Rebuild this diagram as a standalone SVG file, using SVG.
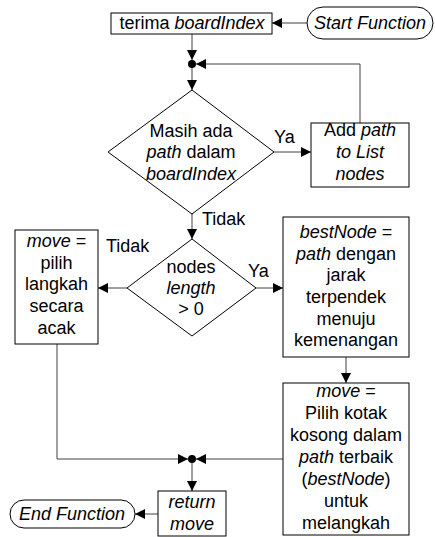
<svg xmlns="http://www.w3.org/2000/svg" width="435" height="537" viewBox="0 0 435 537">
<style>
text{font-family:"Liberation Sans",Arial,sans-serif;font-size:18px;fill:#000;text-anchor:middle}
.i{font-style:italic}
.s{fill:#fff;stroke:#000;stroke-width:1}
.c{fill:none;stroke:#404040;stroke-width:1}
.l{text-anchor:start}
</style>
<defs>
<marker id="a" viewBox="0 0 10 10" refX="10" refY="5" markerWidth="10" markerHeight="10" markerUnits="userSpaceOnUse" orient="auto">
<path d="M0,0 L10,5 L0,10 z" fill="#000"/>
</marker>
</defs>
<rect width="435" height="537" fill="#fff"/>
<g id="connectors">
<path class="c" d="M307,23 L272,23" marker-end="url(#a)"/>
<path class="c" d="M192,34 L192,60" marker-end="url(#a)"/>
<path class="c" d="M360,123 L360,64 L196,64" marker-end="url(#a)"/>
<path class="c" d="M192,68 L192,90" marker-end="url(#a)"/>
<path class="c" d="M274,152 L311,152" marker-end="url(#a)"/>
<path class="c" d="M192,214 L192,239" marker-end="url(#a)"/>
<path class="c" d="M127,288 L98,288" marker-end="url(#a)"/>
<path class="c" d="M256,288 L283,288" marker-end="url(#a)"/>
<path class="c" d="M346,357 L346,383" marker-end="url(#a)"/>
<path class="c" d="M57,344 L57,459 L188,459" marker-end="url(#a)"/>
<path class="c" d="M283,459 L196,459" marker-end="url(#a)"/>
<path class="c" d="M192,463 L192,491" marker-end="url(#a)"/>
<path class="c" d="M158,514 L135,514" marker-end="url(#a)"/>
<circle cx="192" cy="64" r="4" fill="#000"/>
<circle cx="192" cy="459" r="4" fill="#000"/>
<text class="l" x="274" y="143">Ya</text>
<text class="l" x="202" y="225">Tidak</text>
<text class="l" x="106" y="252">Tidak</text>
<text class="l" x="248" y="277">Ya</text>
</g>
<g id="start">
<rect class="s" x="307" y="7" width="126" height="32" rx="16"/>
<text class="i" x="370" y="29">Start Function</text>
</g>
<g id="terima">
<rect class="s" x="111" y="13" width="161" height="21"/>
<text x="192" y="29">terima <tspan class="i">boardIndex</tspan></text>
</g>
<g id="decision1">
<polygon class="s" points="192,90 274,152 192,214 108,152"/>
<text x="191" y="137">Masih ada</text>
<text x="191" y="158"><tspan class="i">path</tspan> dalam</text>
<text x="191" y="180" class="i">boardIndex</text>
</g>
<g id="addpath">
<rect class="s" x="311" y="123" width="98" height="64"/>
<text x="360" y="136">Add <tspan class="i">path</tspan></text>
<text x="360" y="158" class="i">to List</text>
<text x="360" y="180" class="i">nodes</text>
</g>
<g id="decision2">
<polygon class="s" points="192,239 256,288 192,336 127,288"/>
<text x="191" y="273">nodes</text>
<text x="191" y="294" class="i">length</text>
<text x="191" y="315">&gt; 0</text>
</g>
<g id="random">
<rect class="s" x="15" y="230" width="83" height="114"/>
<text x="56.5" y="247"><tspan class="i">move</tspan> =</text>
<text x="56.5" y="269">pilih</text>
<text x="56.5" y="290">langkah</text>
<text x="56.5" y="312">secara</text>
<text x="56.5" y="334">acak</text>
</g>
<g id="bestnode">
<rect class="s" x="283" y="217" width="126" height="140"/>
<text x="346" y="238"><tspan class="i">bestNode</tspan> =</text>
<text x="346" y="260"><tspan class="i">path</tspan> dengan</text>
<text x="346" y="281">jarak</text>
<text x="346" y="303">terpendek</text>
<text x="346" y="325">menuju</text>
<text x="346" y="346">kemenangan</text>
</g>
<g id="pilih">
<rect class="s" x="283" y="383" width="126" height="152"/>
<text x="346" y="397"><tspan class="i">move</tspan> =</text>
<text x="346" y="419">Pilih kotak</text>
<text x="346" y="441">kosong dalam</text>
<text x="346" y="463"><tspan class="i">path</tspan> terbaik</text>
<text x="346" y="485">(<tspan class="i">bestNode</tspan>)</text>
<text x="346" y="507">untuk</text>
<text x="346" y="529">melangkah</text>
</g>
<g id="return">
<rect class="s" x="158" y="491" width="68" height="45"/>
<text x="192" y="508" class="i">return</text>
<text x="192" y="530" class="i">move</text>
</g>
<g id="end">
<rect class="s" x="10" y="500" width="125" height="28" rx="14"/>
<text class="i" x="72" y="520">End Function</text>
</g>
</svg>
